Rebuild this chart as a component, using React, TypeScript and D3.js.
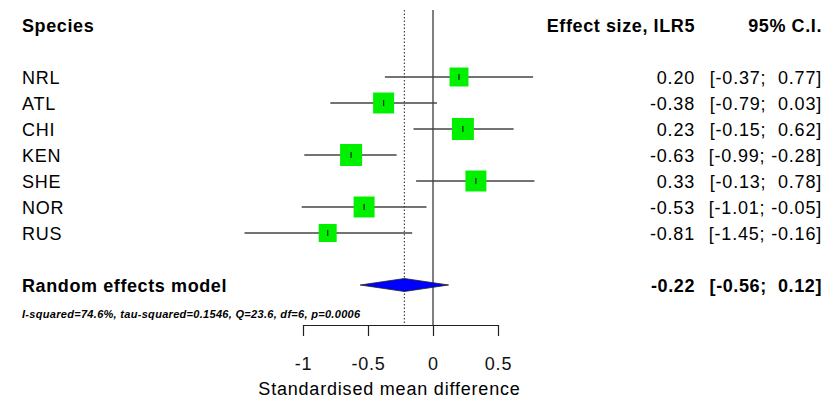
import React, { useEffect, useRef } from "react";
import * as d3 from "d3";

const species = ["NRL", "ATL", "CHI", "KEN", "SHE", "NOR", "RUS"];
const effect = [0.2, -0.38, 0.23, -0.63, 0.33, -0.53, -0.81];
const lower = [-0.37, -0.79, -0.15, -0.99, -0.13, -1.01, -1.45];
const upper = [0.77, 0.03, 0.62, -0.28, 0.78, -0.05, -0.16];
const weights = [12.1, 14.8, 16.3, 16.3, 14.8, 14.8, 10.9];

const summaryLabel = "Random effects model";
const summaryEst = -0.22;
const summaryLower = -0.56;
const summaryUpper = 0.12;
const statsText = "I-squared=74.6%, tau-squared=0.1546, Q=23.6, df=6, p=0.0006";

const xTicks = [-1, -0.5, 0, 0.5];
const xTickLabels = ["-1", "-0.5", "0", "0.5"];
const xTitle = "Standardised mean difference";

const fmt = (v: number) => v.toFixed(2);
const fmtCI = (lo: number, hi: number) =>
  `[${fmt(lo)};${hi < 0 ? " " : "  "}${fmt(hi)}]`;

const App = () => {
  const ref = useRef<SVGSVGElement>(null);

  useEffect(() => {
    const width = 834;
    const height = 401;
    const font = "'Liberation Sans', Arial, Helvetica, sans-serif";
    const regSpacing = 0.8;
    const boldSpacing = 0.6;

    const svg = d3.select(ref.current);
    svg.selectAll("*").remove();

    // x: effect size -> pixels
    const x = d3.scaleLinear().domain([-1, 0.5]).range([303, 498]);
    // y: row index -> pixels (header = -2, studies 0..6, summary 8)
    const y = d3.scaleLinear().domain([0, 1]).range([77, 103]);
    const size = d3.scaleSqrt().domain([0, d3.max(weights)!]).range([0, 22]);

    const axisY = 325;
    const topY = 10;

    svg
      .append("rect")
      .attr("width", width)
      .attr("height", height)
      .attr("fill", "white");

    // reference lines
    svg
      .append("line")
      .attr("x1", x(0))
      .attr("x2", x(0))
      .attr("y1", topY)
      .attr("y2", axisY)
      .attr("stroke", "#555")
      .attr("stroke-width", 1.5);

    svg
      .append("line")
      .attr("x1", x(summaryEst))
      .attr("x2", x(summaryEst))
      .attr("y1", topY)
      .attr("y2", axisY)
      .attr("stroke", "#444")
      .attr("stroke-width", 1.2)
      .attr("stroke-dasharray", "1.5,2");

    // study rows
    const rows = svg
      .append("g")
      .selectAll("g")
      .data(species)
      .join("g");

    rows
      .append("line")
      .attr("x1", (d, i) => x(lower[i]))
      .attr("x2", (d, i) => x(upper[i]))
      .attr("y1", (d, i) => y(i))
      .attr("y2", (d, i) => y(i))
      .attr("stroke", "#444")
      .attr("stroke-width", 1.5);

    rows
      .append("rect")
      .attr("x", (d, i) => x(effect[i]) - size(weights[i]) / 2)
      .attr("y", (d, i) => y(i) - size(weights[i]) / 2)
      .attr("width", (d, i) => size(weights[i]))
      .attr("height", (d, i) => size(weights[i]))
      .attr("fill", "#00f000");

    rows
      .append("line")
      .attr("x1", (d, i) => x(effect[i]))
      .attr("x2", (d, i) => x(effect[i]))
      .attr("y1", (d, i) => y(i) - 3)
      .attr("y2", (d, i) => y(i) + 3)
      .attr("stroke", "#222")
      .attr("stroke-width", 1.2);

    rows
      .append("text")
      .attr("x", 22)
      .attr("y", (d, i) => y(i) + 6.5)
      .attr("font-size", 18)
      .attr("letter-spacing", regSpacing)
      .text((d) => d);

    rows
      .append("text")
      .attr("x", 695)
      .attr("y", (d, i) => y(i) + 6.5)
      .attr("text-anchor", "end")
      .attr("font-size", 18)
      .attr("letter-spacing", regSpacing)
      .text((d, i) => fmt(effect[i]));

    rows
      .append("text")
      .attr("x", 822)
      .attr("y", (d, i) => y(i) + 6.5)
      .attr("text-anchor", "end")
      .attr("font-size", 18)
      .attr("letter-spacing", regSpacing)
      .style("white-space", "pre")
      .text((d, i) => fmtCI(lower[i], upper[i]));

    // headers
    const header = svg
      .append("g")
      .attr("font-weight", "bold")
      .attr("font-size", 18)
      .attr("letter-spacing", boldSpacing);
    header.append("text").attr("x", 22).attr("y", y(-2) + 7).text("Species");
    header
      .append("text")
      .attr("x", 695)
      .attr("y", y(-2) + 7)
      .attr("text-anchor", "end")
      .text("Effect size, ILR5");
    header
      .append("text")
      .attr("x", 822)
      .attr("y", y(-2) + 7)
      .attr("text-anchor", "end")
      .text("95% C.I.");

    // summary
    const sy = y(8);
    const diamond = d3.line<[number, number]>()([
      [x(summaryLower), sy],
      [x(summaryEst), sy - 6.5],
      [x(summaryUpper), sy],
      [x(summaryEst), sy + 6.5],
    ]);
    svg
      .append("path")
      .attr("d", diamond + "Z")
      .attr("fill", "#0000ff")
      .attr("stroke", "#222")
      .attr("stroke-width", 0.8);

    const summary = svg
      .append("g")
      .attr("font-weight", "bold")
      .attr("font-size", 18)
      .attr("letter-spacing", boldSpacing);
    summary.append("text").attr("x", 22).attr("y", sy + 7).text(summaryLabel);
    summary
      .append("text")
      .attr("x", 695)
      .attr("y", sy + 6.5)
      .attr("text-anchor", "end")
      .text(fmt(summaryEst));
    summary
      .append("text")
      .attr("x", 822)
      .attr("y", sy + 6.5)
      .attr("text-anchor", "end")
      .style("white-space", "pre")
      .text(fmtCI(summaryLower, summaryUpper));

    svg
      .append("text")
      .attr("x", 22)
      .attr("y", 318)
      .attr("font-size", 11)
      .attr("font-weight", "bold")
      .attr("font-style", "italic")
      .attr("letter-spacing", 0.3)
      .text(statsText);

    // x axis
    const axis = svg
      .append("g")
      .attr("transform", `translate(0,${axisY})`)
      .call(
        d3
          .axisBottom(x)
          .tickValues(xTicks)
          .tickFormat((d, i) => xTickLabels[i])
          .tickSize(11)
          .tickSizeOuter(0)
          .tickPadding(21)
      );
    axis.select(".domain").attr("stroke", "#222").attr("stroke-width", 1.2);
    axis.selectAll(".tick line").attr("stroke", "#222").attr("stroke-width", 1.2);
    axis
      .selectAll(".tick text")
      .attr("font-size", 18)
      .attr("letter-spacing", regSpacing)
      .attr("font-family", font)
      .attr("fill", "#111");

    const mid = (d3.min(lower)! + d3.max(upper)!) / 2;
    svg
      .append("text")
      .attr("x", x(mid))
      .attr("y", 395)
      .attr("text-anchor", "middle")
      .attr("font-size", 18)
      .attr("letter-spacing", regSpacing)
      .text(xTitle);
  }, []);

  return (
    <svg
      ref={ref}
      width={834}
      height={401}
      style={{
        position: "absolute",
        left: 0,
        top: 0,
        display: "block",
        fontFamily: "'Liberation Sans', Arial, Helvetica, sans-serif",
      }}
    />
  );
};

export default App;
